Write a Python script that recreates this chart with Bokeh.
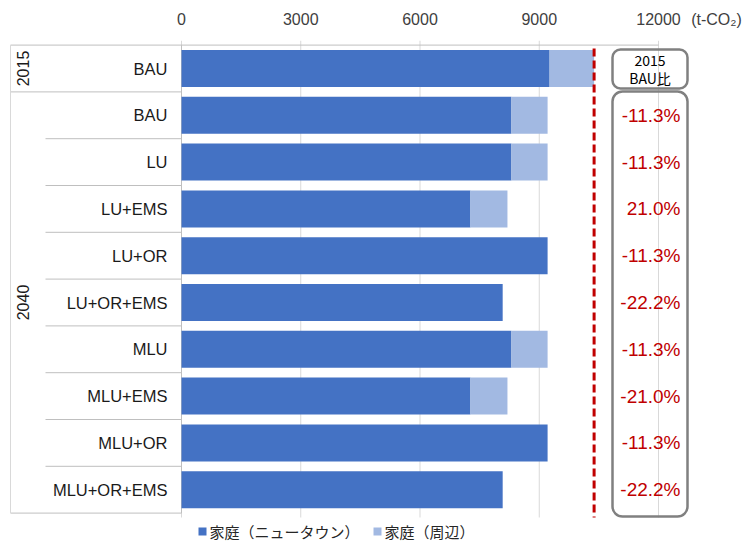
import numpy as np
from bokeh.plotting import figure
from bokeh.models import Range1d, FixedTicker, BoxAnnotation, ColumnDataSource
from bokeh.core.properties import value
from bokeh.embed import file_html
from bokeh.resources import INLINE

# ---------------- data ----------------
years = ["2015"] + ["2040"] * 9
scenarios = ["BAU", "BAU", "LU", "LU+EMS", "LU+OR", "LU+OR+EMS",
             "MLU", "MLU+EMS", "MLU+OR", "MLU+OR+EMS"]
newtown = [9260, 8300, 8300, 7270, 9210, 8080, 8300, 7270, 9210, 8080]
surrounding = [1120, 910, 910, 930, 0, 0, 910, 930, 0, 0]
ratio_labels = ["-11.3%", "-11.3%", "21.0%", "-11.3%", "-22.2%",
                "-11.3%", "-21.0%", "-11.3%", "-22.2%"]
ratio_title = ["2015", "BAU比"]
series_names = ["家庭（ニュータウン）", "家庭（周辺）"]
x_ticks = [0, 3000, 6000, 9000, 12000]
unit_label = "(t-CO₂)"

# ---------------- layout helpers ----------------
W, H = 749, 542
X0_PX, PX_PER_UNIT = 181, 477 / 12000
ROW0_PX, ROW_PX = 68, 46.8
TOP_BORDER = 40


def xd(px):
    return (px - X0_PX) / PX_PER_UNIT


def yd(px):
    return (px - ROW0_PX) / ROW_PX


DARK = "#4472C4"
LIGHT = "#A2B9E2"
RED = "#C00000"
LINE = "#BFBFBF"
GRID = "#D9D9D9"
BOX = "#808080"
LATIN = value("Liberation Sans")
CJK = value("Noto Sans CJK JP")

n = len(scenarios)
idx = np.arange(n)
total = np.add(newtown, surrounding)

p = figure(width=W, height=H, output_backend="svg", toolbar_location=None,
           x_range=Range1d(xd(0), xd(W)), y_range=Range1d(yd(H), yd(TOP_BORDER)),
           x_axis_location="above", y_axis_location=None,
           min_border_left=0, min_border_right=0, min_border_bottom=0,
           min_border_top=TOP_BORDER)
p.outline_line_color = None
p.grid.visible = False

unit_tick = round(xd(716))
ax = p.xaxis[0]
ax.ticker = FixedTicker(ticks=x_ticks + [unit_tick])
ax.major_label_overrides = {unit_tick: unit_label}
ax.axis_line_color = None
ax.major_tick_line_color = None
ax.minor_tick_line_color = None
ax.major_label_standoff = 7
ax.major_label_text_font = "Liberation Sans"
ax.major_label_text_font_size = "16px"
ax.major_label_text_color = "#404040"

# grid lines
p.segment(x0=x_ticks, x1=x_ticks, y0=[yd(40)] * len(x_ticks), y1=[yd(517)] * len(x_ticks),
          line_color=GRID, line_width=1)

# table lines on the left
p.segment(x0=[xd(10)], x1=[12000], y0=[-0.5], y1=[-0.5], line_color=LINE, line_width=1)
p.segment(x0=[xd(10), xd(10)], x1=[0, 0], y0=[0.5, n - 0.5], y1=[0.5, n - 0.5],
          line_color=LINE, line_width=1)
inner = list(np.arange(1.5, n - 1, 1.0))
p.segment(x0=[xd(45)] * len(inner), x1=[0] * len(inner), y0=inner, y1=inner,
          line_color=LINE, line_width=1)
p.segment(x0=[xd(10), 0], x1=[xd(10), 0], y0=[-0.5, -0.5], y1=[n - 0.5, n - 0.5],
          line_color=[GRID, LINE], line_width=1)

# bars
src = ColumnDataSource(dict(y=idx, nt=newtown, total=total))
p.hbar(y="y", left=0, right="nt", height=0.79, source=src,
       fill_color=DARK, line_color=None)
p.hbar(y="y", left="nt", right="total", height=0.79, source=src,
       fill_color=LIGHT, line_color=None)

# reference line: 2015 BAU total
p.segment(x0=[total[0]], x1=[total[0]], y0=[yd(48)], y1=[yd(517)],
          line_color=RED, line_width=3, line_dash="8 4")

# category labels
p.text(x=[xd(167)] * n, y=idx, text=scenarios, text_align="right",
       text_baseline="middle", text_font=LATIN, text_font_size="16.5px",
       text_color="#1a1a1a")

# group labels (rotated)
groups = list(dict.fromkeys(years))
gy = [float(np.mean([i for i, yy in enumerate(years) if yy == g])) for g in groups]
p.text(x=[xd(22)] * len(groups), y=gy, text=groups, angle=np.pi / 2,
       text_align="center", text_baseline="middle", text_font=LATIN,
       text_font_size="16px", text_color="#1a1a1a")

# right-hand boxes
p.add_layout(BoxAnnotation(left=xd(612), right=xd(687), top=yd(49), bottom=yd(88),
                           border_radius=8, fill_color=None, line_color=BOX,
                           line_alpha=1.0, line_width=2.5))
p.add_layout(BoxAnnotation(left=xd(612), right=xd(687), top=yd(91), bottom=yd(516),
                           border_radius=10, fill_color=None, line_color=BOX,
                           line_alpha=1.0, line_width=2.5))
p.text(x=[xd(649.5)] * 2, y=[yd(59.5), yd(77.5)], text=ratio_title,
       text_align="center", text_baseline="middle", text_font=CJK,
       text_font_size="14px", text_color="#000000")
p.text(x=[xd(680)] * len(ratio_labels), y=idx[1:], text=ratio_labels,
       text_align="right", text_baseline="middle", text_font=LATIN,
       text_font_size="19px", text_color=RED)

# legend (manual)
ly = yd(531)
p.scatter(x=[xd(202), xd(377)], y=[ly, ly], marker="square", size=8,
          fill_color=[DARK, LIGHT], line_color=None)
p.text(x=[xd(209), xd(384)], y=[ly, ly], text=series_names, text_align="left",
       text_baseline="middle", text_font=CJK, text_font_size="15px",
       text_color="#262626")

open("out.html", "w").write(file_html(p, INLINE))
